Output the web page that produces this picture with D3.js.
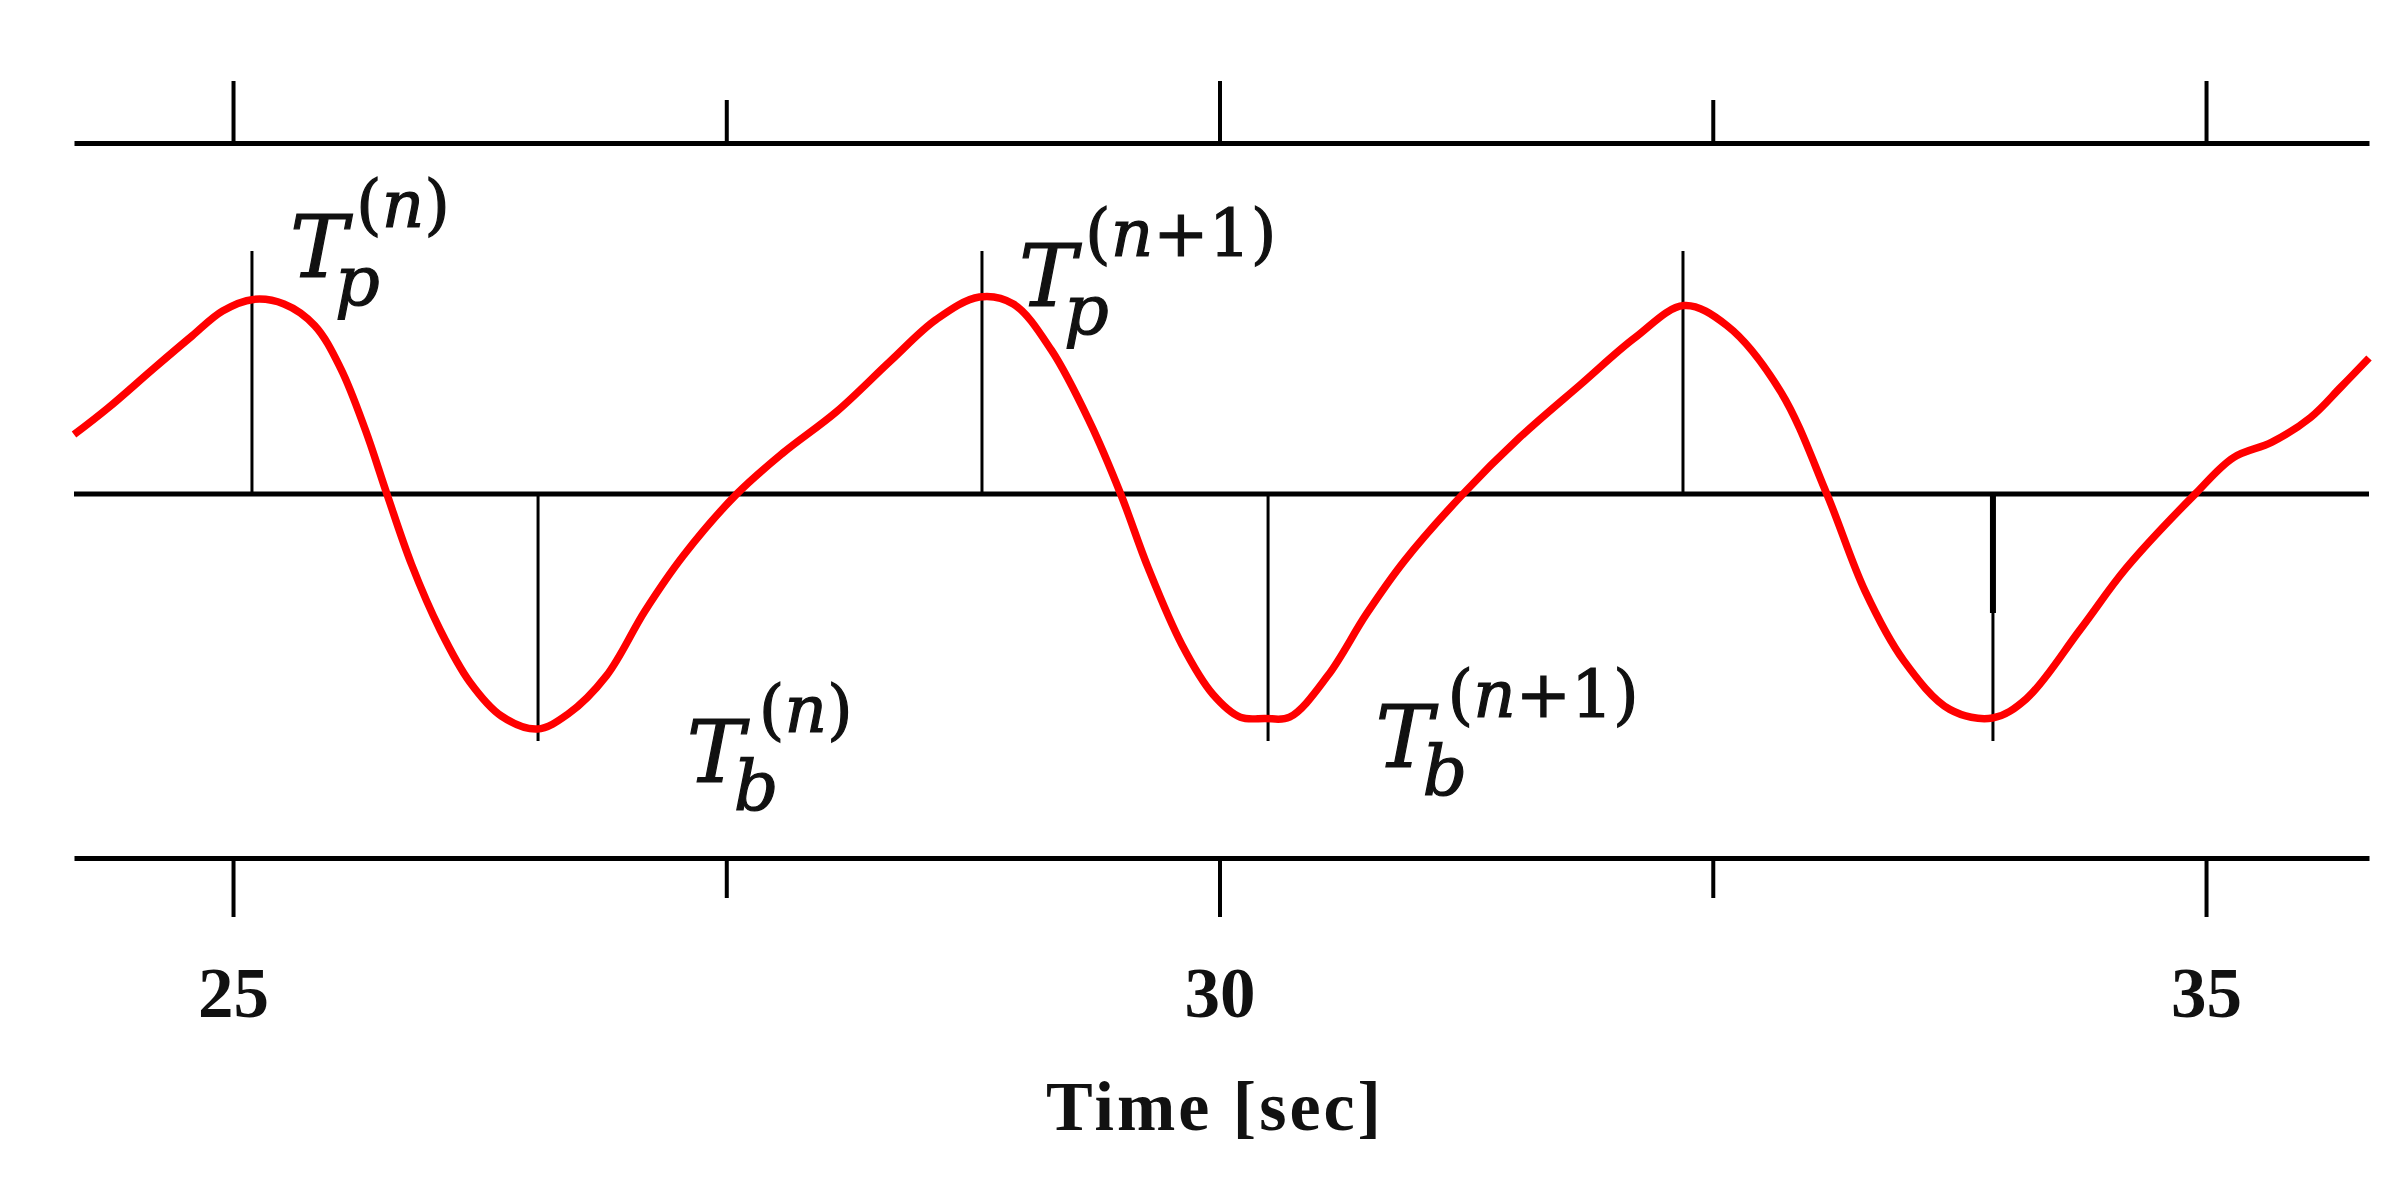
<!DOCTYPE html>
<html>
<head>
<meta charset="utf-8">
<script src="https://cdn.jsdelivr.net/npm/d3@7"></script>
<style>
  html, body { margin: 0; padding: 0; background: #ffffff; }
  svg { display: block; }
</style>
</head>
<body>
<div id="chart"></div>
<script>
// ---------------- DATA ----------------
// time axis (seconds) and signal amplitude (arbitrary units)
const timeSec = [
  24.194, 24.364, 24.597, 24.792, 24.947, 25.103, 25.258, 25.414, 25.546, 25.671,
  25.780, 25.904, 26.050, 26.200, 26.360, 26.542, 26.698, 26.893, 27.087, 27.281,
  27.553, 27.787, 28.059, 28.332, 28.565, 28.783, 28.955, 29.148, 29.343, 29.499,
  29.639, 29.810, 29.966, 30.106, 30.230, 30.355, 30.549, 30.744, 30.938, 31.234,
  31.521, 31.833, 32.105, 32.354, 32.572, 32.844, 33.078, 33.272, 33.467, 33.701,
  33.918, 34.089, 34.362, 34.595, 34.945, 35.139, 35.334, 35.529, 35.684, 35.826
];
const amplitude = [
  0.297, 0.428, 0.627, 0.790, 0.915, 0.973, 0.950, 0.842, 0.627, 0.320,
  0.000, -0.350, -0.680, -0.940, -1.110, -1.175, -1.100, -0.908, -0.586, -0.310,
  0.000, 0.205, 0.412, 0.665, 0.873, 0.985, 0.950, 0.719, 0.358, 0.000,
  -0.371, -0.755, -1.001, -1.116, -1.122, -1.116, -0.908, -0.601, -0.333, 0.000,
  0.282, 0.550, 0.781, 0.942, 0.842, 0.512, 0.000, -0.486, -0.832, -1.077,
  -1.120, -1.024, -0.678, -0.371, 0.000, 0.182, 0.259, 0.382, 0.535, 0.680
];

// peak / trough marker times and their extent
const peakTimes   = [25.096, 28.796, 32.349];
const troughTimes = [26.546, 30.246, 33.920];
const peakMarkerTop      = 1.215;
const troughMarkerBottom = -1.235;
// heavier upper part of the last trough marker
const heavyMarkerTime = 33.920;
const heavyMarkerEnd  = -0.595;

// axis
const xDomain = [24.194, 35.826];
const yDomain = [-1.82, 1.755];
const tickValues = [25, 27.5, 30, 32.5, 35];
const majorTicks = [25, 30, 35];
const tickLabels = ["25", "30", "35"];
const xTitle = "Time [sec]";

// annotations: base letter, subscript, superscript, anchor (time, amplitude)
const annBase = ["T", "T", "T", "T"];
const annSub  = ["p", "p", "b", "b"];
const annSup  = ["(n)", "(n+1)", "(n)", "(n+1)"];
const annTime = [25.289, 28.984, 27.300, 30.790];
const annAmp  = [1.085, 0.940, -1.440, -1.365];

// ---------------- LAYOUT ----------------
const W = 2407, H = 1184;
const svg = d3.select("#chart").append("svg")
  .attr("width", W).attr("height", H)
  .attr("viewBox", `0 0 ${W} ${H}`);

svg.append("rect").attr("width", W).attr("height", H).attr("fill", "#ffffff");

const x = d3.scaleLinear().domain(xDomain).range([74, 2369]);
const y = d3.scaleLinear().domain(yDomain).range([858, 143]);

const axisStroke = 5;
const tickStroke = 4;

// Top axis (ticks pointing up)
const topAxis = d3.axisTop(x).tickValues(tickValues).tickSizeOuter(0).tickFormat("");
const gTop = svg.append("g").attr("transform", `translate(0,${y(yDomain[1])})`).call(topAxis);
gTop.select(".domain").attr("stroke", "#000").attr("stroke-width", axisStroke);
gTop.selectAll(".tick line")
  .attr("stroke", "#000").attr("stroke-width", tickStroke)
  .attr("y2", d => majorTicks.includes(d) ? -62 : -43);

// Bottom axis (ticks pointing down)
const bottomAxis = d3.axisBottom(x).tickValues(tickValues).tickSizeOuter(0)
  .tickFormat(d => { const i = majorTicks.indexOf(d); return i >= 0 ? tickLabels[i] : ""; });
const gBot = svg.append("g").attr("transform", `translate(0,${y(yDomain[0])})`).call(bottomAxis);
gBot.select(".domain").attr("stroke", "#000").attr("stroke-width", axisStroke);
gBot.selectAll(".tick line")
  .attr("stroke", "#000").attr("stroke-width", tickStroke)
  .attr("y2", d => majorTicks.includes(d) ? 59 : 40);
gBot.selectAll(".tick text")
  .attr("y", 159).attr("dy", 0)
  .attr("fill", "#111")
  .style("font-family", "'Liberation Serif', 'Times New Roman', serif")
  .style("font-weight", "bold")
  .style("font-size", "71px");

// zero line
svg.append("line")
  .attr("x1", x(xDomain[0])).attr("x2", x(xDomain[1]))
  .attr("y1", y(0)).attr("y2", y(0))
  .attr("stroke", "#000").attr("stroke-width", axisStroke);

// x title
svg.append("text")
  .attr("x", 1215).attr("y", 1130)
  .attr("text-anchor", "middle")
  .attr("fill", "#111")
  .style("font-family", "'Liberation Serif', 'Times New Roman', serif")
  .style("font-weight", "bold")
  .style("font-size", "70px")
  .style("letter-spacing", "3px")
  .text(xTitle);

// markers
const markerStroke = 3;
svg.append("g").selectAll("line.peak").data(peakTimes).join("line")
  .attr("class", "peak")
  .attr("x1", d => x(d)).attr("x2", d => x(d))
  .attr("y1", y(0)).attr("y2", y(peakMarkerTop))
  .attr("stroke", "#000").attr("stroke-width", markerStroke);
svg.append("g").selectAll("line.trough").data(troughTimes).join("line")
  .attr("class", "trough")
  .attr("x1", d => x(d)).attr("x2", d => x(d))
  .attr("y1", y(0)).attr("y2", y(troughMarkerBottom))
  .attr("stroke", "#000").attr("stroke-width", markerStroke);
svg.append("line")
  .attr("x1", x(heavyMarkerTime)).attr("x2", x(heavyMarkerTime))
  .attr("y1", y(0)).attr("y2", y(heavyMarkerEnd))
  .attr("stroke", "#000").attr("stroke-width", 6);

// signal curve
const pts = timeSec.map((t, i) => [t, amplitude[i]]);
const line = d3.line()
  .x(d => x(d[0])).y(d => y(d[1]))
  .curve(d3.curveCatmullRom.alpha(0.5));
svg.append("path")
  .datum(pts)
  .attr("d", line)
  .attr("fill", "none")
  .attr("stroke", "#ff0000")
  .attr("stroke-width", 7.5)
  .attr("stroke-linejoin", "round")
  .attr("stroke-linecap", "butt");

// annotations (one text element each, with positioned tspans)
const mathFont = "'DejaVu Serif', serif";
annBase.forEach((b, i) => {
  const ax = x(annTime[i]), ay = y(annAmp[i]);
  const isB = annSub[i] === "b";
  const t = svg.append("text")
    .attr("fill", "#111").attr("stroke", "#111").attr("stroke-width", 1.2)
    .style("font-family", mathFont);
  t.append("tspan").attr("x", ax).attr("y", ay)
    .style("font-style", "italic").style("font-size", "86px").text(b);
  t.append("tspan").attr("x", ax + (isB ? 47 : 45)).attr("y", ay + 28)
    .style("font-style", "italic").style("font-size", "70px").text(annSub[i]);
  annSup[i].split("").forEach((ch, k) => {
    const sp = t.append("tspan")
      .style("font-size", "66px")
      .style("font-style", /[a-z]/.test(ch) ? "italic" : "normal")
      .text(ch);
    if (k === 0) sp.attr("x", ax + (isB ? 72 : 66)).attr("y", ay - 50);
  });
});
</script>
</body>
</html>
